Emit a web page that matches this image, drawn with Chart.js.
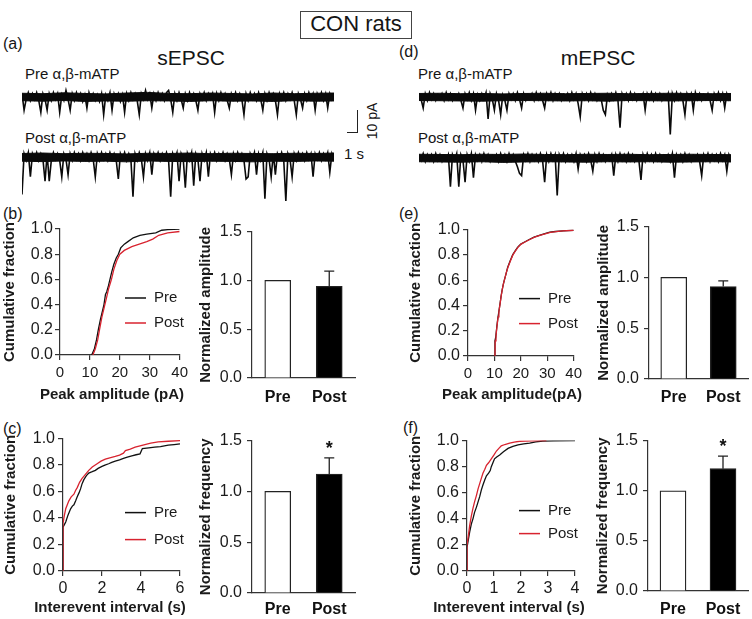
<!DOCTYPE html>
<html><head><meta charset="utf-8">
<script src="https://cdn.jsdelivr.net/npm/chart.js@4.4.1/dist/chart.umd.min.js"></script>
<style>
html,body{margin:0;padding:0;background:#fff;}
body{width:752px;height:619px;overflow:hidden;position:relative;font-family:"Liberation Sans",Arial,Helvetica,sans-serif;color:#151515;}
.t{position:absolute;white-space:nowrap;}
canvas{position:absolute;}
</style></head><body>
<script>
// ---------------- DATA ----------------
// Raw current traces (pA, baseline 0), sampled along the 10 s sweep
const tracePreS = [
 1.5,-6,-1,2,-1.5,1.5,-1,2,-1.5,-7,
 1.5,-1,-6,1.5,-1.5,2,-1,1.5,-7,1,
 -1.5,3,-1,-6,1.5,-1.5,2,-1,1.5,-2,
 1,-5,2,-1,1.5,-1.5,1,-2,1.5,-8,
 1,-1.5,2,-6,1.5,-1,1.5,-2,1,-7,
 1.5,-1.5,2,-1,1.5,-1.5,-8,1.5,-1,3,
 -1,1.5,-5,1.5,-1.5,2,-1,1.5,-1.5,2,
 3,-1,-7,1.5,-1.5,2,-1,-5,1.5,-1.5,
 2,-1,1.5,-1.5,-6,1.5,-1,2,-1.5,1.5,
 -1,1.5,-7,1.5,-1.5,2,-1,1.5,-1.5,-5,
 1.5,-1,2,-1.5,1.5,-1,-8,1.5,-1.5,2,
 -1,1.5,-1.5,2,-1,-6,1.5,-1.5,2,-1,
 1.5,-1.5,-8,1.5,-1,2,-1.5,1.5,-1,2,
 -1.5,-8,1.5,-1,-5,1.5,-1.5,2,-1,1.5,
 -6,1.5,-1,2,-1.5,1.5,-5,1.5,-1,1.5];
const tracePostS = [
 -17,1.5,-1.5,2,-9,1.5,-1,2,-1.5,1.5,
 -1,-11,1.5,-11,-1.5,2,-1,1.5,-1.5,-9,
 1.5,-1,-8,1.5,-1.5,2,-1,1.5,-1.5,2,
 -1,1.5,-1.5,2,-1,-9,1.5,-1.5,2,-1,
 1.5,-1.5,2,-1,1.5,-1.5,-10,1.5,-1,2,
 -1.5,1.5,-1,-18,1.5,-1.5,2,-1,-9,1.5,
 -1.5,2,-8,1.5,-1,2,-1.5,1.5,-1,2,
 -1.5,-18,1.5,-1,2,-11,1.5,-1,-14,1.5,
 -1.5,2,-13,1.5,-1,-11,1.5,-1.5,2,-9,
 1.5,-1,2,-1.5,1.5,-1,2,-1.5,1.5,-1,
 -8,1.5,-1.5,2,-1,1.5,-1.5,-10,-9,1.5,
 -1,2,-8,1.5,-1.5,2,-19,1.5,-1,-9,
 1.5,-8,1.5,-1,2,-1.5,-20,1.5,-1,-9,
 1.5,-1.5,2,-1,1.5,-1.5,2,-1,1.5,-9,
 1.5,-1,2,-1.5,1.5,-1,2,-7,1.5,-1];
const tracePreM = [
 1.5,-1,-5,1.5,-1.5,2,-1,1.5,-1.5,1,
 -1,1.5,-1.5,2,-1,1.5,-1.5,1,-1,1.5,
 -1.5,-5,1.5,-1,2,-1.5,1.5,-6,1,-1.5,
 1.5,-1,2,-10,1.5,-1,-6,1.5,-1.5,-8,
 1,-1.5,-6,1.5,-1,1.5,-1.5,2,-1,-5,
 1.5,-1.5,1,-1,1.5,-1.5,2,-1,1.5,-1.5,
 -5,1.5,-1,2,-1.5,1.5,-1,1.5,-1.5,1,
 -1,1.5,-1.5,2,-1,1.5,-3,-9,1.5,-1,
 1.5,-1.5,2,-1,1.5,-1.5,1,-1,-6,-8,
 1,-1.5,1.5,-1,2,-1.5,-14,1.5,-1,1.5,
 -1.5,2,-1,1.5,-1.5,1,-1,1.5,-6,1.5,
 -1,2,-1.5,1.5,-1,1.5,-1.5,1,-1,1.5,
 -17,1.5,-1.5,2,-1,1.5,-1.5,-8,1.5,-1,
 1.5,-6,2,-1,1.5,-1.5,1,-1,1.5,-1.5,
 -6,1.5,-1,2,-1.5,1.5,-5,1.5,-1,1.5];
const tracePostM = [
 1.5,-1,2,-1.5,1.5,-1,1.5,-1.5,2,-1,
 1.5,-1.5,1,-1,1.5,-13,1.5,-1,2,-13,
 1.5,-1,-11,1.5,-1.5,2,-9,1.5,-1,1.5,
 -1.5,2,-1,1.5,-1.5,1,-1,1.5,-1.5,2,
 -1,1.5,-1.5,2,-1,1.5,-1.5,-4,-7,-8,
 1.5,-1,2,-1.5,1.5,-1,1.5,-1.5,2,-1,
 -11,1.5,-1.5,2,-1,1.5,-17,1.5,-1,2,
 -1.5,1.5,-1,1.5,-1.5,2,-5,1.5,-1,1.5,
 -1.5,2,-1,-6,1.5,-1.5,2,-1,1.5,-1.5,
 1,-1,1.5,-8,1.5,-1.5,2,-1,1.5,-1.5,
 2,-1,1.5,-1.5,1,-1,-10,1.5,-1.5,2,
 -1,1.5,-1.5,2,-1,1.5,-1.5,1,-1,1.5,
 -1.5,2,-9,1.5,-1,1.5,-1.5,2,-1,1.5,
 -1.5,1,-1,1.5,-1.5,-8,1.5,-1,2,-1.5,
 1.5,-1,1.5,-1.5,2,-1,1.5,-6,1.5,-1];

// Dense noise core of each trace (upper / lower edge, pA) at sample positions bandX
const bandX = [0,10,20,30,40,50,60,70,80,90,100,110,120,130,140,149];
const bandHiPreS  = [1.7,1.5,1.9,1.6,1.4,1.8,2.1,1.6,1.5,1.8,1.6,1.4,1.8,1.5,1.7,1.8];
const bandLoPreS  = [-1.7,-1.9,-1.6,-2.0,-1.8,-1.9,-1.7,-1.8,-2.0,-1.7,-1.9,-1.8,-2.0,-1.7,-1.9,-1.8];
const bandHiPostS = [1.6,1.8,1.5,1.7,1.6,1.4,1.7,1.6,1.8,1.5,1.7,1.6,1.5,1.7,1.6,1.8];
const bandLoPostS = [-1.9,-2.1,-1.8,-2.0,-1.9,-2.2,-1.8,-2.0,-2.1,-1.9,-2.0,-2.2,-1.9,-2.0,-1.8,-1.9];
const bandHiPreM  = [1.6,1.7,1.5,1.6,1.4,1.6,1.7,1.5,1.6,1.7,1.5,1.6,1.7,1.6,1.5,1.6];
const bandLoPreM  = [-1.6,-1.7,-1.8,-1.9,-1.7,-1.6,-1.7,-1.8,-1.7,-1.9,-1.6,-1.7,-1.8,-1.7,-1.6,-1.7];
const bandHiPostM = [1.7,1.6,1.5,1.7,1.6,1.8,1.6,1.5,1.7,1.6,1.7,1.5,1.6,1.7,1.6,1.5];
const bandLoPostM = [-1.7,-1.8,-1.9,-1.7,-2.0,-1.8,-1.7,-1.8,-1.9,-1.7,-1.8,-1.7,-1.9,-1.8,-1.7,-1.8];

// Cumulative distributions [x, fraction]
const ampS_pre = [[10.6,0],[11.5,0.05],[12.2,0.12],[12.8,0.2],[13.5,0.28],[14.2,0.35],[14.7,0.4],[15.2,0.48],[15.6,0.5],[16.2,0.55],[16.7,0.6],[17.3,0.66],[18,0.72],[18.8,0.77],[19.5,0.8],[20.3,0.85],[21.5,0.88],[22.7,0.9],[24.5,0.93],[26.7,0.95],[29,0.96],[32,0.97],[34,0.99],[36,0.995],[40,1.0]];
const ampS_post = [[11,0],[11.8,0.05],[12.6,0.12],[13.2,0.2],[14,0.3],[15,0.4],[15.6,0.46],[16.3,0.53],[17.2,0.6],[18,0.68],[19,0.75],[20,0.8],[21.5,0.83],[24,0.86],[26.5,0.88],[29,0.9],[31,0.92],[33,0.95],[36,0.97],[40,0.98]];
const freqS_pre = [[0,0],[0,0.33],[0.07,0.35],[0.14,0.37],[0.25,0.42],[0.39,0.47],[0.48,0.49],[0.56,0.5],[0.65,0.53],[0.73,0.56],[0.82,0.59],[0.9,0.62],[0.98,0.66],[1.07,0.69],[1.2,0.72],[1.32,0.74],[1.5,0.75],[1.66,0.76],[1.8,0.775],[2.0,0.79],[2.15,0.8],[2.34,0.81],[2.5,0.82],[2.68,0.83],[2.9,0.84],[3.1,0.85],[3.3,0.86],[3.53,0.87],[3.75,0.878],[3.95,0.885],[4.07,0.925],[4.4,0.93],[4.7,0.935],[5.0,0.94],[5.4,0.95],[5.7,0.955],[6.0,0.96]];
const freqS_post = [[0,0],[0,0.36],[0.07,0.42],[0.14,0.47],[0.22,0.5],[0.3,0.53],[0.42,0.56],[0.56,0.58],[0.65,0.61],[0.73,0.63],[0.85,0.67],[0.98,0.7],[1.15,0.73],[1.32,0.76],[1.5,0.785],[1.75,0.81],[1.95,0.83],[2.17,0.845],[2.4,0.855],[2.68,0.865],[2.9,0.875],[3.1,0.89],[3.2,0.91],[3.45,0.92],[3.7,0.935],[3.95,0.945],[4.2,0.955],[4.5,0.965],[4.88,0.975],[5.4,0.98],[6.0,0.985]];
const ampM_pre = [[10,0],[10.2,0.12],[10.5,0.15],[10.9,0.23],[11.3,0.3],[11.6,0.34],[12.1,0.41],[12.5,0.47],[12.9,0.52],[13.3,0.56],[13.75,0.6],[14.4,0.65],[15,0.7],[15.9,0.75],[16.9,0.8],[17.8,0.83],[18.75,0.86],[20,0.885],[21.25,0.9],[23,0.92],[25,0.94],[27,0.955],[29.4,0.97],[31,0.98],[33.1,0.985],[36,0.99],[40,0.995]];
const ampM_post = [[10.2,0],[10.3,0.12],[10.6,0.16],[11,0.24],[11.4,0.31],[11.7,0.35],[12.2,0.42],[12.6,0.48],[13,0.53],[13.4,0.57],[13.9,0.61],[14.5,0.66],[15.1,0.7],[16,0.75],[17,0.8],[17.9,0.83],[18.9,0.86],[20.1,0.885],[21.4,0.9],[23.2,0.92],[25.2,0.94],[27.2,0.955],[29.5,0.968],[31.2,0.978],[33.3,0.984],[36,0.99],[40,0.995]];
const freqM_pre = [[0,0],[0,0.18],[0.05,0.24],[0.1,0.3],[0.16,0.36],[0.22,0.4],[0.28,0.45],[0.35,0.49],[0.41,0.53],[0.47,0.57],[0.53,0.62],[0.59,0.66],[0.66,0.7],[0.72,0.73],[0.8,0.75],[0.86,0.77],[0.9,0.8],[0.96,0.83],[1.02,0.86],[1.1,0.875],[1.21,0.89],[1.35,0.915],[1.52,0.94],[1.7,0.955],[1.89,0.967],[2.1,0.975],[2.32,0.98],[2.55,0.99],[2.81,0.997],[3.2,0.999],[4,1.0]];
const freqM_post = [[0,0],[0,0.2],[0.05,0.27],[0.1,0.35],[0.16,0.42],[0.22,0.48],[0.28,0.53],[0.35,0.58],[0.41,0.63],[0.47,0.67],[0.53,0.71],[0.59,0.75],[0.66,0.78],[0.72,0.81],[0.8,0.83],[0.9,0.86],[1.0,0.89],[1.09,0.92],[1.18,0.94],[1.27,0.96],[1.4,0.97],[1.58,0.98],[1.75,0.988],[1.95,0.995],[2.4,0.998],[2.94,1.0]];

// Normalized bar values (Pre, Post) with SEM and significance
const groups = ['Pre', 'Post'];
const ampS_norm = [1.0, 0.94],  ampS_err = [0, 0.155], ampS_sig = [false, false];
const freqS_norm = [1.0, 1.17], freqS_err = [0, 0.16], freqS_sig = [false, true];
const ampM_norm = [1.0, 0.91],  ampM_err = [0, 0.055], ampM_sig = [false, false];
const freqM_norm = [1.0, 1.22], freqM_err = [0, 0.125], freqM_sig = [false, true];

// ---------------- DRAWING ----------------
const F = '"Liberation Sans", Arial, Helvetica, sans-serif';
Chart.defaults.font.family = F;
Chart.defaults.color = '#1a1a1a';
const AX = '#333';
const RED = '#d8232f';
const PX_PER_PA = 2.2;

function txt(s, x, top, size, o) {
  o = o || {};
  const d = document.createElement('div');
  d.className = 't';
  d.textContent = s;
  d.style.left = x + 'px';
  d.style.top = top + 'px';
  d.style.fontSize = size + 'px';
  d.style.lineHeight = size + 'px';
  if (o.bold) d.style.fontWeight = 'bold';
  if (o.center) d.style.transform = 'translateX(-50%)';
  if (o.rot) d.style.transform = 'translate(-50%,-50%) rotate(-90deg)';
  document.body.appendChild(d);
  return d;
}

function makeCanvas(rect, m) {
  const c = document.createElement('canvas');
  const w = rect.r - rect.l + m.l + m.r, h = rect.b - rect.t + m.t + m.b;
  c.width = w; c.height = h;
  Object.assign(c.style, {left: (rect.l - m.l) + 'px', top: (rect.t - m.t) + 'px', width: w + 'px', height: h + 'px'});
  document.body.appendChild(c);
  return c;
}
function baseOpts(m) {
  return {responsive: false, animation: false, devicePixelRatio: 1,
    layout: {padding: {left: 0, top: m.t, right: m.r, bottom: 0}},
    plugins: {legend: {display: false}, tooltip: {enabled: false}}};
}
const toXY = a => a.map(p => ({x: p[0], y: p[1]}));
const zipXY = (xs, ys) => xs.map((x, i) => ({x: x, y: ys[i]}));

function traceChart(x0, x1, baseY, values, hi, lo, yMin, yMax) {
  const rect = {l: x0, r: x1, t: Math.round(baseY - yMax * PX_PER_PA), b: Math.round(baseY - yMin * PX_PER_PA)};
  const c = makeCanvas(rect, {l: 0, t: 0, r: 0, b: 0});
  new Chart(c, {type: 'line',
    data: {labels: values.map((_, i) => i), datasets: [
      {data: values, borderColor: '#0a0a0a', borderWidth: 1.6, pointRadius: 0, tension: 0},
      {data: zipXY(bandX, hi), borderColor: '#0a0a0a', borderWidth: 1, pointRadius: 0, tension: 0, fill: false},
      {data: zipXY(bandX, lo), borderColor: '#0a0a0a', borderWidth: 1, pointRadius: 0, tension: 0, fill: '-1', backgroundColor: '#0a0a0a'}]},
    options: {responsive: false, animation: false, devicePixelRatio: 1, layout: {padding: 0},
      plugins: {legend: {display: false}, tooltip: {enabled: false}},
      scales: {x: {type: 'linear', display: false, min: 0, max: values.length - 1}, y: {display: false, min: yMin, max: yMax}}}});
}

// Axis titles drawn without width compression
const titlePlugin = {
  id: 'axTitles',
  afterDraw(ch, args, o) {
    const ctx = ch.ctx, a = ch.chartArea;
    ctx.save();
    ctx.fillStyle = '#1a1a1a'; ctx.font = 'bold 15px ' + F; ctx.textAlign = 'center'; ctx.textBaseline = 'middle';
    if (o.x) ctx.fillText(o.x, o.xc, ch.height - 9);
    if (o.y) { ctx.translate(9, (a.top + a.bottom) / 2); ctx.rotate(-Math.PI / 2); ctx.fillText(o.y, 0, 0); }
    ctx.restore();
  }
};

const legendPlugin = {
  id: 'cumLegend',
  afterDraw(ch, args, o) {
    const ctx = ch.ctx, a = ch.chartArea;
    ctx.save();
    ch.data.datasets.forEach((d, i) => {
      const y = a.top + o.y + i * o.gap;
      ctx.strokeStyle = d.borderColor; ctx.lineWidth = 1.5;
      ctx.beginPath(); ctx.moveTo(a.left + o.x, y); ctx.lineTo(a.left + o.x + 21, y); ctx.stroke();
      ctx.fillStyle = '#1a1a1a'; ctx.font = '15px ' + F; ctx.textBaseline = 'middle'; ctx.textAlign = 'left';
      ctx.fillText(d.label, a.left + o.x + 29, y);
    });
    ctx.restore();
  }
};

const errPlugin = {
  id: 'errBars',
  afterDatasetsDraw(ch, args, o) {
    const ctx = ch.ctx, ys = ch.scales.y, meta = ch.getDatasetMeta(0), vals = ch.data.datasets[0].data;
    ctx.save();
    meta.data.forEach((bar, i) => {
      const e = o.errors[i];
      if (!e) return;
      const yTop = ys.getPixelForValue(vals[i] + e);
      ctx.strokeStyle = '#222'; ctx.lineWidth = 1.3;
      ctx.beginPath(); ctx.moveTo(bar.x, bar.y); ctx.lineTo(bar.x, yTop);
      ctx.moveTo(bar.x - 5, yTop); ctx.lineTo(bar.x + 5, yTop); ctx.stroke();
      if (o.sig[i]) {
        ctx.fillStyle = '#111'; ctx.font = 'bold 18px ' + F; ctx.textAlign = 'center'; ctx.textBaseline = 'alphabetic';
        ctx.fillText('*', bar.x, yTop - 4);
      }
    });
    ctx.restore();
  }
};

function axisGrid() { return {display: true, drawOnChartArea: false, drawTicks: true, tickLength: 5, color: AX, lineWidth: 1.2}; }

function cumChart(rect, m, pre, post, xMax, xStep, xTitle, xTitleCenter, xFont, xPad, yPad, leg) {
  const c = makeCanvas(rect, m);
  const o = baseOpts(m);
  o.plugins.cumLegend = leg;
  o.plugins.axTitles = {x: xTitle, xc: xTitleCenter - (rect.l - m.l), y: 'Cumulative fraction'};
  o.scales = {
    x: {type: 'linear', min: 0, max: xMax,
      ticks: {stepSize: xStep, autoSkip: false, maxRotation: 0, font: {size: xFont}, padding: xPad, color: '#1a1a1a'},
      grid: axisGrid(), border: {display: true, color: AX, width: 1.2},
      afterFit: s => { s.height = m.b; }},
    y: {min: 0, max: 1,
      ticks: {stepSize: 0.2, callback: v => v.toFixed(1), font: {size: 16}, padding: yPad, color: '#1a1a1a'},
      grid: axisGrid(), border: {display: true, color: AX, width: 1.2},
      afterFit: s => { s.width = m.l; }}
  };
  new Chart(c, {type: 'line',
    data: {datasets: [
      {label: 'Pre', data: toXY(pre), borderColor: '#111', borderWidth: 1.3, pointRadius: 0, tension: 0, order: 1},
      {label: 'Post', data: toXY(post), borderColor: RED, borderWidth: 1.3, pointRadius: 0, tension: 0, order: 0}]},
    options: o, plugins: [legendPlugin, titlePlugin]});
}

function barChart(rect, m, vals, errs, sig, yTitle, xPad) {
  const c = makeCanvas(rect, m);
  const o = baseOpts(m);
  o.plugins.errBars = {errors: errs, sig: sig};
  o.plugins.axTitles = {y: yTitle};
  o.scales = {
    x: {type: 'category', grid: {display: false, drawTicks: false}, border: {display: true, color: AX, width: 1.2},
      ticks: {font: {size: 16, weight: 'bold'}, padding: xPad, color: '#111'},
      afterFit: s => { s.height = m.b; }},
    y: {min: 0, max: 1.5,
      ticks: {stepSize: 0.5, callback: v => v.toFixed(1), font: {size: 16}, padding: 5, color: '#1a1a1a'},
      grid: axisGrid(), border: {display: true, color: AX, width: 1.2},
      afterFit: s => { s.width = m.l; }}
  };
  new Chart(c, {type: 'bar',
    data: {labels: groups, datasets: [{data: vals, backgroundColor: ['#ffffff', '#000000'], borderColor: '#222', borderWidth: 1.3, barThickness: 26}]},
    options: o, plugins: [errPlugin, titlePlugin]});
}

// Title box
const box = document.createElement('div');
Object.assign(box.style, {position: 'absolute', left: '300px', top: '11px', width: '112px', height: '28px', boxSizing: 'border-box',
  border: '1px solid #444', textAlign: 'center', fontSize: '22px', lineHeight: '24px'});
box.textContent = 'CON rats';
document.body.appendChild(box);

// Panel labels and headers
txt('(a)', 3, 36, 16); txt('(d)', 399, 44, 16);
txt('(b)', 3, 206, 16); txt('(e)', 399, 206, 16);
txt('(c)', 3, 421, 16); txt('(f)', 403, 420, 16);
txt('sEPSC', 191, 47, 21, {center: true});
txt('mEPSC', 598, 47, 21, {center: true});
txt('Pre α,β-mATP', 25, 66, 15); txt('Post α,β-mATP', 25, 130, 15);
txt('Pre α,β-mATP', 418, 66, 15); txt('Post α,β-mATP', 418, 130, 15);

// Traces
traceChart(22, 334, 97, tracePreS, bandHiPreS, bandLoPreS, -15, 5);
traceChart(22, 334, 157, tracePostS, bandHiPostS, bandLoPostS, -25, 5);
traceChart(419, 731, 97, tracePreM, bandHiPreM, bandLoPreM, -20, 5);
traceChart(419, 731, 158, tracePostM, bandHiPostM, bandLoPostM, -20, 5);

// Scale bar (10 pA, 1 s)
const vb = document.createElement('div');
Object.assign(vb.style, {position: 'absolute', left: '357px', top: (132 - 10 * PX_PER_PA) + 'px', width: '1px', height: (10 * PX_PER_PA) + 'px', background: '#222'});
document.body.appendChild(vb);
const hb = document.createElement('div');
Object.assign(hb.style, {position: 'absolute', left: '347px', top: '132px', width: '11px', height: '1px', background: '#222'});
document.body.appendChild(hb);
txt('10 pA', 372, 121, 14, {rot: true});
txt('1 s', 354, 146, 15, {center: true});

// Cumulative plots
cumChart({l: 60, t: 229, r: 180, b: 355}, {l: 59, t: 12, r: 12, b: 49}, ampS_pre, ampS_post, 40, 10, 'Peak amplitude (pA)', 112, 15, 4, 2, {x: 65, y: 69, gap: 25});
cumChart({l: 63, t: 438, r: 180, b: 571}, {l: 61, t: 12, r: 10, b: 46}, freqS_pre, freqS_post, 6, 2, 'Interevent interval (s)', 110, 16, 3, 3, {x: 62, y: 74, gap: 27});
cumChart({l: 468, t: 229, r: 574, b: 356}, {l: 61, t: 12, r: 12, b: 48}, ampM_pre, ampM_post, 40, 10, 'Peak amplitude(pA)', 512, 15, 4, 3, {x: 51, y: 69, gap: 25});
cumChart({l: 467, t: 440, r: 575, b: 571}, {l: 60, t: 12, r: 10, b: 46}, freqM_pre, freqM_post, 4, 1, 'Interevent interval (s)', 509, 16, 3, 3, {x: 52, y: 70, gap: 23});

// Bar plots
barChart({l: 252, t: 229, r: 355, b: 378}, {l: 55, t: 12, r: 4, b: 36}, ampS_norm, ampS_err, ampS_sig, 'Normalized amplitude', 10);
barChart({l: 252, t: 438, r: 355, b: 593}, {l: 55, t: 12, r: 4, b: 26}, freqS_norm, freqS_err, freqS_sig, 'Normalized frequency', 7);
barChart({l: 649, t: 224, r: 748, b: 379}, {l: 54, t: 12, r: 3, b: 36}, ampM_norm, ampM_err, ampM_sig, 'Normalized amplitude', 9);
barChart({l: 648, t: 438, r: 748, b: 591}, {l: 54, t: 12, r: 3, b: 28}, freqM_norm, freqM_err, freqM_sig, 'Normalized frequency', 9);
</script>
</body></html>
